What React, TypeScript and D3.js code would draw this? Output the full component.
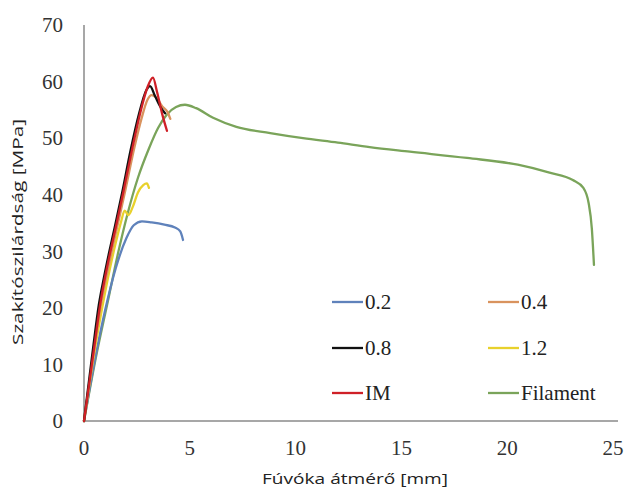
import React from "react";
import * as d3 from "d3";

type Pt = [number, number];

const xTicks = [0, 5, 10, 15, 20, 25];
const yTicks = [0, 10, 20, 30, 40, 50, 60, 70];

const blue02: Pt[] = [
  [0, 0], [0.5, 10.5], [1.0, 19.6], [1.5, 27], [2.0, 32.3], [2.35, 34.6], [2.74, 35.3],
  [3.2, 35.1], [3.8, 34.7], [4.3, 34.2], [4.55, 33.5], [4.68, 32],
];
const orange04: Pt[] = [
  [0, 0], [0.53, 14], [0.81, 20.8], [1.06, 25.6], [1.31, 30], [1.56, 34.2], [1.92, 40.2],
  [2.36, 48], [2.72, 53.5], [3.0, 56.8], [3.2, 57.6], [3.45, 57], [3.7, 55.6], [3.95, 54.6],
  [4.08, 53.4],
];
const black08: Pt[] = [
  [0, 0], [0.45, 13.5], [0.7, 20.5], [0.95, 25.5], [1.2, 30], [1.45, 34.2], [1.8, 40.3],
  [2.2, 47.8], [2.6, 54.3], [2.95, 58.5], [3.12, 59.2], [3.35, 57.5], [3.6, 55.6], [3.83, 54.4],
];
const yellow12: Pt[] = [
  [0, 0], [0.55, 13.5], [0.9, 20.8], [1.2, 26.5], [1.5, 31.5], [1.75, 35.2], [1.92, 37.2],
  [2.1, 36.4], [2.3, 37.8], [2.55, 40.4], [2.8, 41.7], [2.97, 42], [3.07, 41.2],
];
const redIM: Pt[] = [
  [0, 0], [0.5, 13.5], [0.76, 20.5], [1.0, 25.5], [1.25, 30], [1.5, 34.2], [1.86, 40.5],
  [2.3, 48.5], [2.66, 54.5], [3.0, 59], [3.26, 60.7], [3.45, 58.2], [3.7, 54.2], [3.92, 51.3],
];
const filament: Pt[] = [
  [0, 0], [0.55, 11], [1.13, 21.2], [1.6, 29.5], [2.05, 36.5], [2.55, 43], [3.05, 48],
  [3.5, 51.8], [3.92, 54.2], [4.35, 55.5], [4.77, 55.9], [5.3, 55.3], [6.1, 53.6],
  [7.2, 52.0], [8.8, 50.9], [10.35, 50.0], [12, 49.2], [13.5, 48.4], [15.4, 47.6],
  [18.1, 46.5], [20.5, 45.3], [22.0, 43.9], [23.1, 42.6], [23.6, 41.2], [23.85, 38.5],
  [24.0, 34], [24.1, 27.6],
];

const series = [
  { name: "0.2", data: blue02, color: "#5f82bb" },
  { name: "0.4", data: orange04, color: "#d9935e" },
  { name: "0.8", data: black08, color: "#111111" },
  { name: "1.2", data: yellow12, color: "#e8d12c" },
  { name: "IM", data: redIM, color: "#cf2027" },
  { name: "Filament", data: filament, color: "#7aa45a" },
];

// draw order: background curves first, red on top
const drawOrder = ["Filament", "0.2", "1.2", "0.4", "0.8", "IM"];

const App = () => {
  const width = 633;
  const height = 491;
  const x = d3.scaleLinear().domain([0, 25]).range([84, 613]);
  const y = d3.scaleLinear().domain([0, 70]).range([421, 25]);

  const line = d3
    .line<Pt>()
    .x((d) => x(d[0]))
    .y((d) => y(d[1]))
    .curve(d3.curveMonotoneX);

  const serif = "'Liberation Serif', 'Times New Roman', serif";
  const sans = "'Open Sans', 'Noto Sans', sans-serif";

  const legendX = [332, 488];
  const legendY = [302, 348, 393];

  return (
    <div style={{ position: "absolute", left: 0, top: 0 }}>
      <svg width={width} height={height} style={{ display: "block", background: "#fff" }}>
        {/* axes */}
        <line x1={x(0)} x2={x(25) + 5} y1={y(0)} y2={y(0)} stroke="#8a8a8a" strokeWidth={1.5} />
        <line x1={x(0)} x2={x(0)} y1={y(0)} y2={y(70)} stroke="#8a8a8a" strokeWidth={1.5} />

        {yTicks.map((t) => (
          <text key={"y" + t} x={63} y={y(t)} dy="0.35em" textAnchor="end"
            fontFamily={serif} fontSize={21} fill="#333">{t}</text>
        ))}
        {xTicks.map((t) => (
          <text key={"x" + t} x={x(t)} y={455} textAnchor="middle"
            fontFamily={serif} fontSize={21} fill="#333">{t}</text>
        ))}

        <text x={355} y={484} textAnchor="middle" fontFamily={sans} fontSize={15}
          fill="#222" textLength={186} lengthAdjust="spacingAndGlyphs">Fúvóka átmérő [mm]</text>
        <text transform="translate(23,232) rotate(-90)" textAnchor="middle" fontFamily={sans}
          fontSize={15} fill="#222" textLength={226} lengthAdjust="spacingAndGlyphs">
          Szakítószilárdság [MPa]
        </text>

        {/* curves */}
        {drawOrder.map((n) => {
          const s = series.find((d) => d.name === n)!;
          return (
            <path key={n} d={line(s.data) || ""} fill="none" stroke={s.color}
              strokeWidth={2.3} strokeLinejoin="round" strokeLinecap="round" />
          );
        })}

        {/* legend */}
        {series.map((s, i) => {
          const lx = legendX[i % 2];
          const ly = legendY[Math.floor(i / 2)];
          return (
            <g key={"lg" + s.name}>
              <line x1={lx} x2={lx + 31} y1={ly} y2={ly} stroke={s.color} strokeWidth={2.3} />
              <text x={lx + 33} y={ly} dy="0.35em" fontFamily={serif} fontSize={21} fill="#222">
                {s.name}
              </text>
            </g>
          );
        })}
      </svg>
    </div>
  );
};

export default App;
